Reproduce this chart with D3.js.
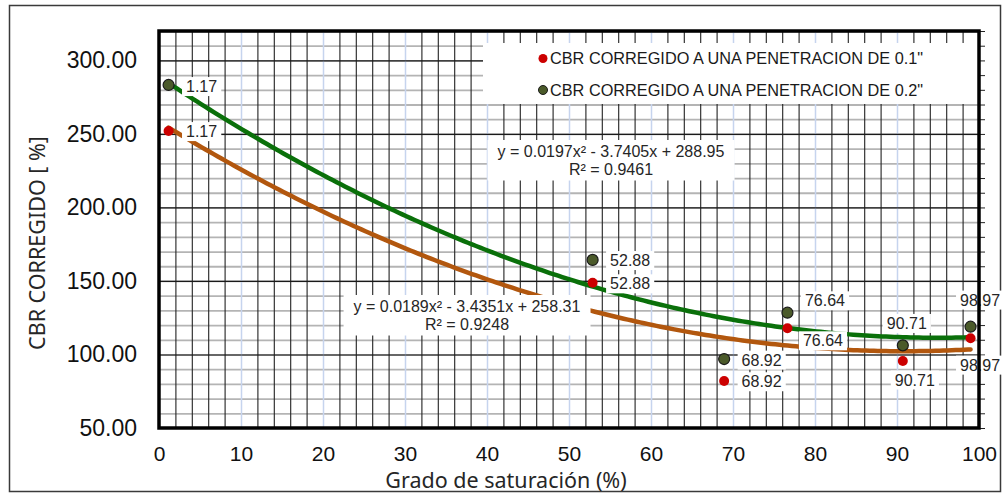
<!DOCTYPE html>
<html>
<head>
<meta charset="utf-8">
<script src="https://cdn.jsdelivr.net/npm/d3@7"></script>
<style>
  body { margin: 0; background: #fff; }
  text { font-family: "Liberation Sans", Arial, sans-serif; }
  .title { font-family: "Noto Sans", "Open Sans", sans-serif; fill: #262626; }
</style>
</head>
<body>
<div id="chart"></div>
<script>
// data
var saturation = [1.17, 52.88, 68.92, 76.64, 90.71, 98.97];
var cbr01 = [252.0, 148.8, 82.0, 117.8, 95.6, 111.0];
var cbr02 = [283.3, 164.3, 96.9, 128.4, 106.2, 118.9];
var seriesNames = ["CBR CORREGIDO A UNA PENETRACION DE 0.1\"", "CBR CORREGIDO A UNA PENETRACION DE 0.2\""];
// trendline coefficients [a, b, c] for a*x^2 + b*x + c, as printed on the chart
var trend01 = [0.0189, -3.4351, 258.31];
var trend02 = [0.0197, -3.7405, 288.95];
var eq01 = ["y = 0.0189x\u00b2 - 3.4351x + 258.31", "R\u00b2 = 0.9248"];
var eq02 = ["y = 0.0197x\u00b2 - 3.7405x + 288.95", "R\u00b2 = 0.9461"];
var xTicks = [0, 10, 20, 30, 40, 50, 60, 70, 80, 90, 100];
var yTicks = [50, 100, 150, 200, 250, 300];

var svgWidth = 1003;
var svgHeight = 494;

var plot = { left: 159, right: 979, top: 31, bottom: 428 };

var svg = d3.select("#chart")
  .append("svg")
  .attr("width", svgWidth)
  .attr("height", svgHeight);

// outer chart border
svg.append("rect")
  .attr("x", 9.5).attr("y", 5.5)
  .attr("width", 991).attr("height", 486)
  .attr("fill", "#fff")
  .attr("stroke", "#3a3a3a")
  .attr("stroke-width", 1.5);

var x = d3.scaleLinear().domain([0, 100]).range([plot.left, plot.right]);
var y = d3.scaleLinear().domain([50, 320]).range([plot.bottom, plot.top]);

var w = plot.right - plot.left;
var h = plot.bottom - plot.top;

// grid: grey horizontal every 10
svg.append("g")
  .attr("transform", `translate(${plot.left},0)`)
  .call(d3.axisLeft(y).tickValues(d3.range(60, 321, 10)).tickSize(-w).tickFormat(""))
  .call(g => g.select(".domain").remove())
  .selectAll("line").attr("stroke", "#b4b4b4").attr("stroke-width", 1.8);

// vertical minor black every 2
svg.append("g")
  .attr("transform", `translate(0,${plot.bottom})`)
  .call(d3.axisBottom(x).tickValues(d3.range(2, 100, 2).filter(d => d % 10 != 0)).tickSize(-h).tickFormat(""))
  .call(g => g.select(".domain").remove())
  .selectAll("line").attr("stroke", "#222").attr("stroke-width", 1.1);

// vertical major light blue every 10
svg.append("g")
  .attr("transform", `translate(0,${plot.bottom})`)
  .call(d3.axisBottom(x).tickValues(d3.range(10, 100, 10)).tickSize(-h).tickFormat(""))
  .call(g => g.select(".domain").remove())
  .selectAll("line").attr("stroke", "#c6d4ee").attr("stroke-width", 1.5);

// horizontal black every 50
svg.append("g")
  .attr("transform", `translate(${plot.left},0)`)
  .call(d3.axisLeft(y).tickValues([100, 150, 200, 250, 300]).tickSize(-w).tickFormat(""))
  .call(g => g.select(".domain").remove())
  .selectAll("line").attr("stroke", "#1a1a1a").attr("stroke-width", 1.2);

// right side outward ticks
svg.append("g")
  .attr("transform", `translate(${plot.right},0)`)
  .call(d3.axisRight(y).tickValues(d3.range(50, 321, 10)).tickSize(6).tickFormat(""))
  .call(g => g.select(".domain").remove())
  .selectAll("line").attr("stroke", "#222").attr("stroke-width", 1);

// legend box
var legend = svg.append("g");
legend.append("rect")
  .attr("x", 483).attr("y", 43)
  .attr("width", plot.right - 483).attr("height", 61)
  .attr("fill", "#fff");

// trendlines
function poly(c, v) { return c[0] * v * v + c[1] * v + c[2]; }
var xs = d3.range(saturation[0], saturation[saturation.length - 1], 0.5).concat([saturation[saturation.length - 1]]);
var line = d3.line().x(d => x(d[0])).y(d => y(d[1]));

svg.append("path")
  .datum(xs.map(v => [v, poly(trend01, v)]))
  .attr("d", line)
  .attr("fill", "none")
  .attr("stroke", "#b2570e")
  .attr("stroke-width", 4.5)
  .attr("stroke-linecap", "round");

svg.append("path")
  .datum(xs.map(v => [v, poly(trend02, v)]))
  .attr("d", line)
  .attr("fill", "none")
  .attr("stroke", "#0a700a")
  .attr("stroke-width", 4.5)
  .attr("stroke-linecap", "round");

// equation boxes
function equation(lines, cx, cy) {
  var g = svg.append("g");
  var box = g.append("rect").attr("fill", "#fff");
  var t = g.append("text")
    .attr("text-anchor", "middle")
    .attr("font-size", "16px")
    .attr("fill", "#262626");
  lines.forEach((s, i) => {
    t.append("tspan").attr("x", cx).attr("y", cy + i * 17.5).text(s);
  });
  var bb = t.node().getBBox();
  box.attr("x", bb.x - 10).attr("y", bb.y - 3)
    .attr("width", bb.width + 20).attr("height", bb.height + 6);
}
equation(eq02, 611, 157);
equation(eq01, 467, 312);

// data labels with white background
var labelOffsets01 = [[33, 0.5], [37.5, 1], [37.5, 0.7], [35.5, 12.4], [12, 19], [9.5, 26.7]];
var labelOffsets02 = [[33, 1.5], [37.5, 0.5], [37.5, 1], [37.5, -12], [4, -22], [9.5, -26.7]];

function dataLabels(values, offsets) {
  saturation.forEach(function(s, i) {
    var g = svg.append("g");
    var box = g.append("rect").attr("fill", "#fff");
    var t = g.append("text")
      .attr("x", x(s) + offsets[i][0])
      .attr("y", y(values[i]) + offsets[i][1])
      .attr("dy", "0.35em")
      .attr("text-anchor", "middle")
      .attr("font-size", "16px")
      .attr("fill", "#262626")
      .text(s.toFixed(2));
    var bb = t.node().getBBox();
    box.attr("x", bb.x - 4).attr("y", bb.y - 1)
      .attr("width", bb.width + 8).attr("height", bb.height + 2);
  });
}
dataLabels(cbr01, labelOffsets01);
dataLabels(cbr02, labelOffsets02);

// frame
svg.append("rect")
  .attr("x", plot.left).attr("y", plot.top)
  .attr("width", w).attr("height", h)
  .attr("fill", "none")
  .attr("stroke", "#000")
  .attr("stroke-width", 3.5);

// points
svg.append("g").selectAll("circle")
  .data(saturation)
  .enter()
  .append("circle")
  .attr("cx", d => x(d))
  .attr("cy", (d, i) => y(cbr02[i]))
  .attr("r", 5.5)
  .attr("fill", "#4b5a2a")
  .attr("stroke", "#1a1a1a")
  .attr("stroke-width", 1.2);

svg.append("g").selectAll("circle")
  .data(saturation)
  .enter()
  .append("circle")
  .attr("cx", d => x(d))
  .attr("cy", (d, i) => y(cbr01[i]))
  .attr("r", 5)
  .attr("fill", "#cc0000");

// axes labels
svg.append("g")
  .attr("transform", `translate(${plot.left - 19},0)`)
  .call(d3.axisLeft(y).tickValues(yTicks).tickSize(0).tickFormat(d3.format(".2f")))
  .call(g => g.select(".domain").remove())
  .selectAll("text")
  .attr("font-size", "23px")
  .attr("fill", "#111")
  .attr("font-family", "Liberation Sans, Arial, sans-serif");

svg.append("g")
  .attr("transform", `translate(0,${plot.bottom + 15})`)
  .call(d3.axisBottom(x).tickValues(xTicks).tickSize(0).tickFormat(d3.format("d")))
  .call(g => g.select(".domain").remove())
  .selectAll("text")
  .attr("font-size", "21px")
  .attr("fill", "#111")
  .attr("font-family", "Liberation Sans, Arial, sans-serif");

svg.append("text")
  .attr("class", "title")
  .attr("x", 506)
  .attr("y", 488)
  .attr("text-anchor", "middle")
  .attr("font-size", "21.5px")
  .text("Grado de saturación (%)");

svg.append("text")
  .attr("class", "title")
  .attr("transform", "translate(45,243) rotate(-90)")
  .attr("text-anchor", "middle")
  .attr("font-size", "21.5px")
  .text("CBR CORREGIDO [ %]");

// legend items
var legendColors = ["#cc0000", "#4b5a2a"];
seriesNames.forEach(function(name, i) {
  var ly = 58.5 + i * 31.5;
  legend.append("circle")
    .attr("cx", 543).attr("cy", ly)
    .attr("r", 4.5)
    .attr("fill", legendColors[i])
    .attr("stroke", i == 1 ? "#1a1a1a" : "none");
  legend.append("text")
    .attr("x", 550).attr("y", ly)
    .attr("dy", "0.35em")
    .attr("font-size", "16.3px")
    .attr("fill", "#1a1a1a")
    .text(name);
});
</script>
</body>
</html>
